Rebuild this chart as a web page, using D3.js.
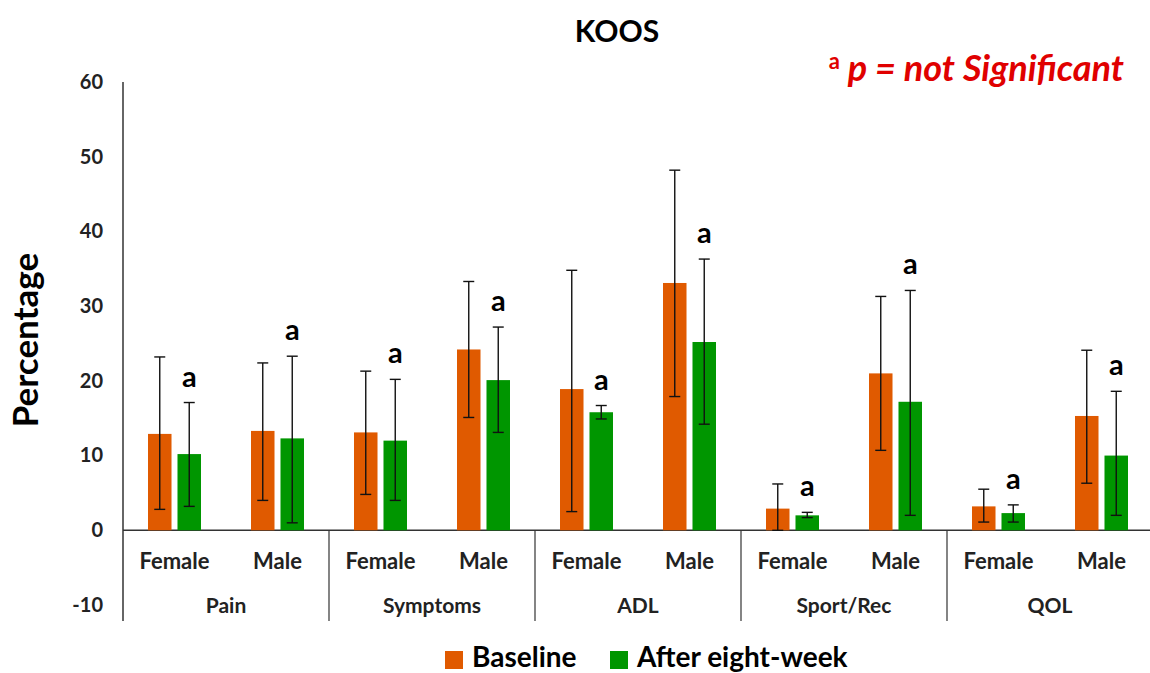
<!DOCTYPE html>
<html>
<head>
<meta charset="utf-8">
<script src="https://cdn.jsdelivr.net/npm/d3@7"></script>
<style>
  body { margin: 0; background: #fff; }
  svg text { font-family: Lato, "Open Sans", sans-serif; }
</style>
</head>
<body>
<div id="chart"></div>
<script>
// data
var domains = ["Pain", "Symptoms", "ADL", "Sport/Rec", "QOL"];
var sexes = ["Female", "Male"];
var series = ["Baseline", "After eight-week"];
var colors = ["#e05a00", "#009600"];

// order: Pain F, Pain M, Symptoms F, Symptoms M, ...
var baseline     = [12.9, 13.3, 13.1, 24.2, 18.9, 33.1, 2.9, 21.0, 3.2, 15.3];
var baselineHigh = [23.2, 22.4, 21.3, 33.3, 34.8, 48.2, 6.2, 31.3, 5.5, 24.1];
var baselineLow  = [2.8, 4.0, 4.8, 15.1, 2.5, 17.9, 0.0, 10.7, 1.1, 6.3];
var after        = [10.2, 12.3, 12.0, 20.1, 15.8, 25.2, 2.0, 17.2, 2.3, 10.0];
var afterHigh    = [17.1, 23.3, 20.2, 27.2, 16.7, 36.3, 2.4, 32.1, 3.4, 18.6];
var afterLow     = [3.2, 1.0, 4.0, 13.1, 14.9, 14.2, 1.7, 2.0, 1.1, 2.0];
var yTicks = [-10, 0, 10, 20, 30, 40, 50, 60];

var width = 1150, height = 673;
var margin = {left: 123, right: -3};
var plotW = width - margin.left - margin.right;

var svg = d3.select("#chart").append("svg")
    .attr("width", width)
    .attr("height", height);

// 60 at y=82, -10 at y=605 (0 lands on 530)
var y = d3.scaleLinear().domain([-10, 60]).range([605, 82]);

var xDomain = d3.scaleBand().domain(domains).range([margin.left, margin.left + plotW]);
var xSex = d3.scaleBand().domain(sexes).range([0, xDomain.bandwidth()]);
var xSeries = d3.scaleBand().domain(series).range([-26.5, 26.5]).paddingInner(0.203);

// build scenes
var scenes = [];
domains.forEach(function(d, i) {
  sexes.forEach(function(s, j) {
    var k = i * 2 + j;
    var cx = xDomain(d) + xSex(s) + xSex.bandwidth() / 2;
    scenes.push({series: 0, cx: cx, value: baseline[k], hi: baselineHigh[k], lo: baselineLow[k]});
    scenes.push({series: 1, cx: cx, value: after[k], hi: afterHigh[k], lo: afterLow[k]});
  });
});

// Title
svg.append("text")
    .attr("x", 617).attr("y", 42)
    .attr("text-anchor", "middle")
    .attr("font-size", 30).attr("font-weight", "bold")
    .attr("fill", "#000")
    .text("KOOS");

// p note
var note = svg.append("text")
    .attr("x", 1124).attr("y", 81)
    .attr("text-anchor", "end")
    .attr("fill", "#e00000")
    .attr("font-weight", "bold");
note.append("tspan").attr("font-size", 22).attr("dy", -12).text("a");
note.append("tspan").attr("font-size", 36).attr("dy", 12).attr("font-style", "italic").text(" p = not Significant");

// Y label
svg.append("text")
    .attr("transform", "translate(38,340) rotate(-90)")
    .attr("text-anchor", "middle")
    .attr("font-size", 35).attr("font-weight", "bold")
    .attr("fill", "#000")
    .text("Percentage");

// Y axis
var axisY = svg.append("g")
    .attr("transform", "translate(" + margin.left + ",0)")
    .call(d3.axisLeft(y).tickValues(yTicks).tickSize(0).tickPadding(20).tickFormat(d3.format("d")));
axisY.select(".domain").attr("stroke", "#333").attr("stroke-width", 1.5).attr("d", "M0," + y(60) + "V621");
axisY.selectAll("text")
    .attr("font-size", 20).attr("font-weight", "bold").attr("fill", "#222")
    .style("font-family", "Lato, sans-serif")
    .text(function(d) { return String(d); });

// zero line
svg.append("line")
    .attr("x1", margin.left).attr("x2", width)
    .attr("y1", y(0)).attr("y2", y(0))
    .attr("stroke", "#333").attr("stroke-width", 1.5);

// category dividers
svg.selectAll(".divider")
    .data(domains.slice(1))
    .enter().append("line")
    .attr("x1", function(d) { return xDomain(d); })
    .attr("x2", function(d) { return xDomain(d); })
    .attr("y1", y(0)).attr("y2", 621)
    .attr("stroke", "#333").attr("stroke-width", 1.2);

// sex labels
domains.forEach(function(d) {
  svg.selectAll(null)
      .data(sexes)
      .enter().append("text")
      .attr("x", function(s) { return xDomain(d) + xSex(s) + xSex.bandwidth() / 2; })
      .attr("y", 569)
      .attr("text-anchor", "middle")
      .attr("font-size", 22).attr("font-weight", "bold").attr("fill", "#222")
      .text(function(s) { return s; });
});

// domain labels
svg.selectAll(".domlab")
    .data(domains)
    .enter().append("text")
    .attr("x", function(d) { return xDomain(d) + xDomain.bandwidth() / 2; })
    .attr("y", 613)
    .attr("text-anchor", "middle")
    .attr("font-size", 21).attr("font-weight", "bold").attr("fill", "#222")
    .text(function(d) { return d; });

// bars
svg.selectAll(".bar")
    .data(scenes)
    .enter().append("rect")
    .attr("x", function(d) { return d.cx + xSeries(series[d.series]); })
    .attr("width", xSeries.bandwidth())
    .attr("y", function(d) { return y(d.value); })
    .attr("height", function(d) { return y(0) - y(d.value); })
    .attr("fill", function(d) { return colors[d.series]; });

// error bars
var err = svg.selectAll(".err")
    .data(scenes)
    .enter().append("g")
    .attr("stroke", "#111").attr("stroke-width", 1.4);
err.append("line")
    .attr("x1", function(d) { return d.cx + xSeries(series[d.series]) + xSeries.bandwidth() / 2; })
    .attr("x2", function(d) { return d.cx + xSeries(series[d.series]) + xSeries.bandwidth() / 2; })
    .attr("y1", function(d) { return y(d.hi); })
    .attr("y2", function(d) { return y(d.lo); });
["hi", "lo"].forEach(function(key) {
  err.append("line")
      .attr("x1", function(d) { return d.cx + xSeries(series[d.series]) + xSeries.bandwidth() / 2 - 5.5; })
      .attr("x2", function(d) { return d.cx + xSeries(series[d.series]) + xSeries.bandwidth() / 2 + 5.5; })
      .attr("y1", function(d) { return y(d[key]); })
      .attr("y2", function(d) { return y(d[key]); });
});

// "a" markers over the after bars
svg.selectAll(".sig")
    .data(scenes.filter(function(d) { return d.series === 1; }))
    .enter().append("text")
    .attr("x", function(d) { return d.cx + xSeries(series[1]) + xSeries.bandwidth() / 2; })
    .attr("y", function(d) { return y(d.hi) - 16; })
    .attr("text-anchor", "middle")
    .attr("font-size", 29).attr("font-weight", "bold").attr("fill", "#000")
    .text("a");

// legend
var legend = svg.append("g");
var lx = [445, 610];
series.forEach(function(s, i) {
  legend.append("rect")
      .attr("x", lx[i]).attr("y", 651)
      .attr("width", 18).attr("height", 18)
      .attr("fill", colors[i]);
  legend.append("text")
      .attr("x", lx[i] + 27).attr("y", 667)
      .attr("font-size", 28).attr("font-weight", "bold").attr("fill", "#000")
      .text(s);
});
</script>
</body>
</html>
